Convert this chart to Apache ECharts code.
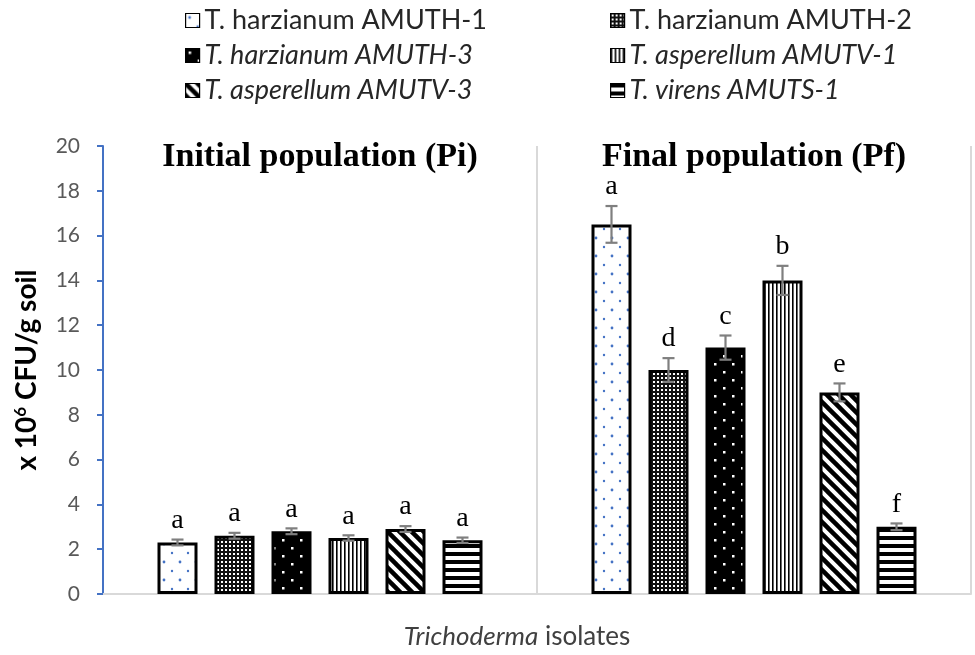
<!DOCTYPE html>
<html>
<head>
<meta charset="utf-8">
<script src="https://cdn.jsdelivr.net/npm/echarts@6/dist/echarts.min.js"></script>
<style>html,body{margin:0;padding:0;background:#fff;}#c{width:975px;height:655px;}</style>
</head>
<body>
<div id="c"></div>
<script>
const categories = ['Initial population (Pi)', 'Final population (Pf)'];
const seriesNames = ['T. harzianum AMUTH-1', 'T. harzianum AMUTH-2', 'T. harzianum AMUTH-3', 'T. asperellum AMUTV-1', 'T. asperellum AMUTV-3', 'T. virens AMUTS-1'];
const italicNames = [false, false, true, true, true, true];
const initialValues = [2.3, 2.6, 2.8, 2.5, 2.9, 2.4];
const finalValues = [16.5, 10, 11, 14, 9, 3];
const initialErrors = [0.13, 0.13, 0.13, 0.12, 0.13, 0.12];
const finalErrors = [0.82, 0.53, 0.54, 0.65, 0.4, 0.15];
const initialLetters = ['a', 'a', 'a', 'a', 'a', 'a'];
const finalLetters = ['a', 'd', 'c', 'b', 'e', 'f'];
const yTicks = [0, 2, 4, 6, 8, 10, 12, 14, 16, 18, 20];

function tile(w, h, draw) {
  const c = document.createElement('canvas');
  c.width = w; c.height = h;
  const g = c.getContext('2d');
  draw(g, w, h);
  return { image: c, repeat: 'repeat' };
}
const patterns = [
  tile(16, 18, (g, w, h) => { g.fillStyle = '#fff'; g.fillRect(0, 0, w, h);
    g.fillStyle = '#4472C4';
    g.beginPath(); g.arc(4, 4, 1.4, 0, Math.PI * 2); g.fill();
    g.beginPath(); g.arc(12, 13, 1.2, 0, Math.PI * 2); g.fill(); }),
  tile(4, 4, (g, w, h) => { g.fillStyle = '#111'; g.fillRect(0, 0, w, h);
    g.fillStyle = '#fff'; g.fillRect(1, 1, 2, 2); }),
  tile(18, 16, (g, w, h) => { g.fillStyle = '#000'; g.fillRect(0, 0, w, h);
    g.fillStyle = '#fff'; g.fillRect(3, 3, 2.5, 2.5); g.fillRect(12, 11, 2.5, 2.5); }),
  tile(4, 4, (g, w, h) => { g.fillStyle = '#fff'; g.fillRect(0, 0, w, h);
    g.fillStyle = '#000'; g.fillRect(0, 0, 1.6, h); }),
  tile(12, 12, (g, w, h) => { g.fillStyle = '#fff'; g.fillRect(0, 0, w, h);
    g.strokeStyle = '#000'; g.lineWidth = 4.5;
    for (let k = -1; k <= 1; k++) { g.beginPath(); g.moveTo(k * w - 2, -2); g.lineTo(k * w + w + 2, h + 2); g.stroke(); } }),
  tile(4, 8, (g, w, h) => { g.fillStyle = '#fff'; g.fillRect(0, 0, w, h);
    g.fillStyle = '#000'; g.fillRect(0, 0, w, 4); })
];

const barW = 40, barStep = 57;
const barSeries = seriesNames.map((name, i) => ({
  name: name,
  type: 'bar',
  barWidth: barW,
  barGap: ((barStep - barW) / barW * 100) + '%',
  data: [initialValues[i], finalValues[i]],
  itemStyle: { color: patterns[i], borderColor: '#000', borderWidth: 3 },
  emphasis: { disabled: true },
  z: 2
}));

const errData = [];
const errLetters = [];
seriesNames.forEach((n, i) => {
  errData.push([0, initialValues[i], initialErrors[i], i]);
  errLetters.push(initialLetters[i]);
  errData.push([1, finalValues[i], finalErrors[i], i]);
  errLetters.push(finalLetters[i]);
});

const errSeries = {
  type: 'custom',
  name: 'err',
  data: errData,
  encode: { x: 0, y: 1 },
  z: 5,
  silent: true,
  renderItem: function (params, api) {
    const cat = api.value(0), v = api.value(1), e = api.value(2), si = api.value(3);
    const base = api.coord([cat, v]);
    const x = base[0] + (si - 2.5) * barStep;
    const yt = api.coord([cat, v + e])[1];
    const yb = api.coord([cat, v - e])[1];
    const ls = { stroke: '#7f7f7f', lineWidth: 2.2 };
    return {
      type: 'group',
      children: [
        { type: 'line', shape: { x1: x, y1: yt, x2: x, y2: yb }, style: ls },
        { type: 'line', shape: { x1: x - 6, y1: yt, x2: x + 6, y2: yt }, style: ls },
        { type: 'line', shape: { x1: x - 6, y1: yb, x2: x + 6, y2: yb }, style: ls },
        { type: 'text', x: x, y: yt - 5, style: { text: errLetters[params.dataIndex], fill: '#000',
          font: '28px "Liberation Serif", "Times New Roman", serif', align: 'center', verticalAlign: 'bottom' } }
      ]
    };
  }
};

function legendFor(idxs, left) {
  return {
    orient: 'vertical',
    left: left,
    top: 2,
    itemWidth: 14,
    itemHeight: 14,
    itemGap: 8,
    icon: 'rect',
    selectedMode: false,
    itemStyle: { borderColor: '#000', borderWidth: 1.2 },
    textStyle: { fontFamily: 'Lato', fontSize: 27, color: '#262626', lineHeight: 27 },
    data: idxs.map(i => ({ name: seriesNames[i], textStyle: { fontStyle: italicNames[i] ? 'italic' : 'normal' } }))
  };
}

const chart = echarts.init(document.getElementById('c'), null, { renderer: 'canvas' });
chart.setOption({
  animation: false,
  backgroundColor: '#fff',
  legend: [legendFor([0, 2, 4], 180), legendFor([1, 3, 5], 605)],
  grid: { left: 103, right: 4, top: 146, bottom: 61, outerBoundsMode: 'none', containLabel: false },
  xAxis: [{
    type: 'category',
    data: categories,
    axisLine: { lineStyle: { color: '#d9d9d9', width: 2 } },
    axisTick: { show: false },
    axisLabel: { show: false },
    splitLine: { show: true, lineStyle: { color: '#d9d9d9', width: 2 } },
    name: '{i|Trichoderma} isolates',
    nameLocation: 'middle',
    nameGap: 30,
    nameTextStyle: { fontFamily: 'Lato', fontSize: 26, color: '#404040', padding: [0, 40, 0, 0],
      rich: { i: { fontFamily: 'Lato', fontSize: 26, fontStyle: 'italic', color: '#404040' } } }
  }, {
    type: 'category',
    data: categories,
    position: 'top',
    axisLine: { show: false },
    axisTick: { show: false },
    axisLabel: { inside: true, margin: -6, fontFamily: '"Liberation Serif", serif', fontWeight: 'bold', fontSize: 34, color: '#000', verticalAlign: 'top' }
  }],
  yAxis: {
    type: 'value',
    min: 0,
    max: 20,
    interval: 2,
    axisLine: { show: true, lineStyle: { color: '#4472C4', width: 2 } },
    axisTick: { show: true, length: 6, lineStyle: { color: '#4472C4', width: 2 } },
    axisLabel: { fontFamily: 'Lato', fontSize: 21, color: '#595959', margin: 23,
      formatter: v => yTicks.indexOf(v) >= 0 ? String(v) : '' },
    splitLine: { show: false },
    name: 'x 10{s|6} CFU/g soil',
    nameLocation: 'middle',
    nameGap: 62,
    nameRotate: 90,
    nameTextStyle: { fontFamily: 'Lato', fontWeight: 'bold', fontSize: 28, color: '#000',
      rich: { s: { fontFamily: 'Lato', fontWeight: 'bold', fontSize: 17, color: '#000', verticalAlign: 'top', padding: [0, 0, 12, 0] } } }
  },
  series: barSeries.concat([errSeries])
});
</script>
</body>
</html>
